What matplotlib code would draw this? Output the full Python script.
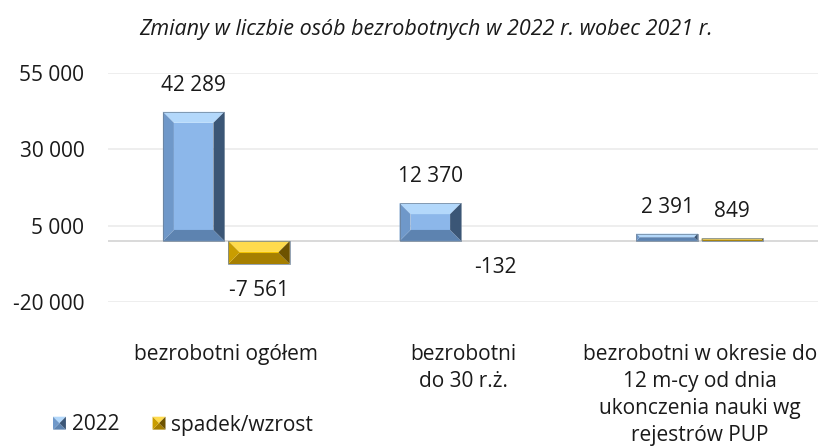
import matplotlib
matplotlib.use("Agg")
import matplotlib.pyplot as plt
from matplotlib.patches import Polygon
from matplotlib.legend_handler import HandlerBase
import numpy as np

# chart data
categories = [
    "bezrobotni ogółem",
    "bezrobotni\ndo 30 r.ż.",
    "bezrobotni w okresie do\n12 m-cy od dnia\nukonczenia nauki wg\nrejestrów PUP",
]
vals_2022 = [42289, 12370, 2391]
vals_change = [-7561, -132, 849]
series_names = ["2022", "spadek/wzrost"]
yticks = [-20000, 5000, 30000, 55000]

plt.rcParams["font.family"] = ["Open Sans", "DejaVu Sans"]
TXT = "#1a1a1a"
FS = 15

# bevel palettes: face, top, bottom, left, right
BLUE = dict(face="#8cb7ea", top="#b3d8fb", bottom="#5d83b0", left="#6f98c9", right="#3b5676")
GOLD = dict(face="#f4c300", top="#ffdb4d", bottom="#a67f00", left="#c99d00", right="#6e5300")


def fmt(v):
    return f"{v:,}".replace(",", " ")


def bevel_polys(x0, y0, x1, y1, b):
    return {
        "face": [(x0 + b, y0 + b), (x1 - b, y0 + b), (x1 - b, y1 - b), (x0 + b, y1 - b)],
        "top": [(x0, y1), (x1, y1), (x1 - b, y1 - b), (x0 + b, y1 - b)],
        "bottom": [(x0, y0), (x1, y0), (x1 - b, y0 + b), (x0 + b, y0 + b)],
        "left": [(x0, y0), (x0, y1), (x0 + b, y1 - b), (x0 + b, y0 + b)],
        "right": [(x1, y0), (x1, y1), (x1 - b, y1 - b), (x1 - b, y0 + b)],
    }


fig = plt.figure(figsize=(8.2, 4.46), dpi=100)
ax = fig.add_axes([108 / 820, 1 - 302 / 446, 710 / 820, 229 / 446])

x = np.arange(len(categories))
w = 0.26
off = 0.138
ax.set_xlim(-0.5, len(categories) - 0.5)
ax.set_ylim(-20000, 55000)

bars_a = ax.bar(x - off, vals_2022, w, color="none", zorder=2)
bars_b = ax.bar(x + off, vals_change, w, color="none", zorder=2)

# beveled look, drawn in pixel space then mapped back to data
inv = ax.transData.inverted()
for bars, pal in [(bars_a, BLUE), (bars_b, GOLD)]:
    for r in bars:
        (px0, py0), (px1, py1) = ax.transData.transform(
            [(r.get_x(), r.get_y()), (r.get_x() + r.get_width(), r.get_y() + r.get_height())])
        px0, px1 = sorted([px0, px1])
        py0, py1 = sorted([py0, py1])
        if py1 - py0 < 1.5:
            continue  # too thin to show (e.g. -132)
        b = min(11, (px1 - px0) / 2, (py1 - py0) / 2)
        for key, pts in bevel_polys(px0, py0, px1, py1, b).items():
            ax.add_patch(Polygon(inv.transform(pts), closed=True, facecolor=pal[key],
                                 edgecolor="none", zorder=3))
        ax.add_patch(Polygon(inv.transform([(px0, py0), (px1, py0), (px1, py1), (px0, py1)]),
                             closed=True, facecolor="none", edgecolor="#6b7f95",
                             linewidth=0.5, zorder=4))

# value labels
for bars, vals in [(bars_a, vals_2022), (bars_b, vals_change)]:
    for r, v in zip(bars, vals):
        dy = 19 if v >= 0 else -19
        ax.annotate(fmt(v), xy=(r.get_x() + r.get_width() / 2, v), xytext=(0, dy),
                    textcoords="offset points", ha="center", va="center",
                    fontsize=FS, color=TXT, zorder=5)

ax.set_yticks(yticks)
ax.set_yticklabels([fmt(t) for t in yticks], fontsize=FS, color=TXT)
ax.tick_params(axis="y", length=0, pad=17)
ax.grid(axis="y", color="#ebebeb", linewidth=1.2, zorder=0)
ax.axhline(0, color="#d9d9d9", linewidth=1.4, zorder=1)
for s in ax.spines.values():
    s.set_visible(False)

ax.set_xticks(x)
ax.set_xticklabels(categories, fontsize=FS, color=TXT, linespacing=1.39)
ax.tick_params(axis="x", length=0, pad=30)

fig.text(426 / 820, 1 - 30 / 446, "Zmiany w liczbie osób bezrobotnych w 2022 r. wobec 2021 r.",
         ha="center", va="center", fontsize=15.5, style="italic", color=TXT)


class BevelHandler(HandlerBase):
    def __init__(self, pal):
        super().__init__()
        self.pal = pal

    def create_artists(self, legend, orig_handle, xdescent, ydescent, width, height,
                       fontsize, trans):
        s = min(width, height)
        x0, y0 = -xdescent, -ydescent + (height - s) / 2
        cx, cy = x0 + s / 2, y0 + s / 2
        tris = {
            "top": [(x0, y0 + s), (x0 + s, y0 + s), (cx, cy)],
            "bottom": [(x0, y0), (x0 + s, y0), (cx, cy)],
            "left": [(x0, y0), (x0, y0 + s), (cx, cy)],
            "right": [(x0 + s, y0), (x0 + s, y0 + s), (cx, cy)],
        }
        return [Polygon(p, closed=True, facecolor=self.pal[k], edgecolor="none",
                        transform=trans) for k, p in tris.items()]


h1 = Polygon([(0, 0)], label=series_names[0])
h2 = Polygon([(0, 0)], label=series_names[1])
fig.legend([h1, h2], series_names, loc="center left",
           bbox_to_anchor=(53 / 820, 1 - 425 / 446), ncol=2, frameon=False,
           fontsize=FS, handlelength=0.62, handleheight=0.62, handletextpad=0.28,
           columnspacing=1.6, borderpad=0, borderaxespad=0,
           handler_map={h1: BevelHandler(BLUE), h2: BevelHandler(GOLD)},
           labelcolor=TXT)

fig.savefig("out.png", dpi=100)
